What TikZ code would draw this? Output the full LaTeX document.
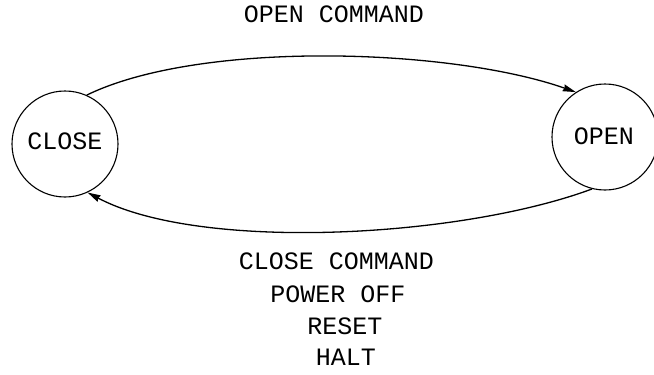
\documentclass[tikz,border=0pt]{standalone}
\usepackage{fontspec}
\newfontfamily\cour{Liberation Mono}
\usetikzlibrary{arrows.meta}
\tikzset{
  state/.style={circle, draw, line width=1.1pt, minimum size=106pt, inner sep=0pt},
  lbl/.style={font=\cour\fontsize{25}{30}\selectfont, anchor=base, inner sep=0pt},
  trans/.style={line width=1.3pt, -{Stealth[length=13pt, width=7pt, inset=1pt]}}
}
\begin{document}
\begin{tikzpicture}[x=1pt, y=-1pt]
\useasboundingbox (0,0) rectangle (654,375);
\node[state] (close) at (65,144) {};
\node[state] (open) at (605,137) {};
\node[lbl] (closet) at (65,149) {CLOSE};
\node[lbl] (opent) at (604,144.5) {OPEN};
\draw[trans] (close.66.7) .. controls (200,40) and (450,48) .. (open.123.7);
\draw[trans] (open.-104) .. controls (460,238) and (200,252) .. (close.-65.8);
\node[lbl] (top) at (334,22) {OPEN COMMAND};
\node[lbl] (b1) at (336.5,269) {CLOSE COMMAND};
\node[lbl] (b2) at (338,302) {POWER OFF};
\node[lbl] (b3) at (345,334) {RESET};
\node[lbl] (b4) at (346,365) {HALT};
\end{tikzpicture}
\end{document}
